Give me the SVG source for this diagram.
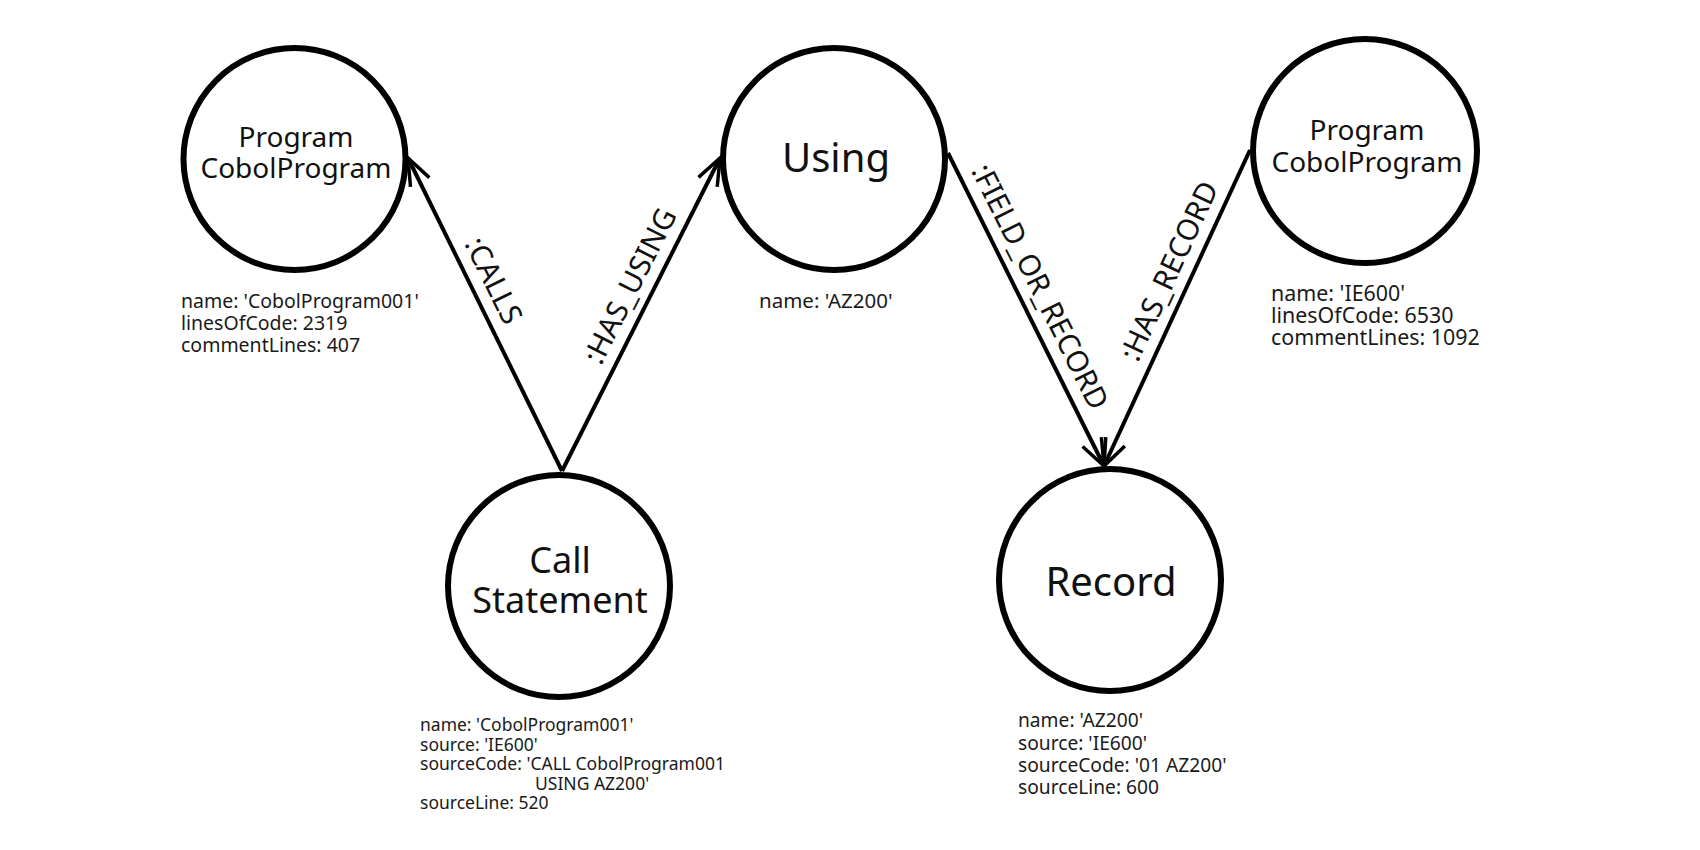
<svg xmlns="http://www.w3.org/2000/svg" width="1700" height="850" viewBox="0 0 1700 850">
  <style>
    .node { fill: #ffffff; stroke: #000000; stroke-width: 6; }
    .lbl { font-family: "Noto Sans", "Open Sans", sans-serif; fill: #111111; text-anchor: middle; }
    .prop { font-family: "Noto Sans", "Open Sans", sans-serif; fill: #1a1a1a; }
    .edge { stroke: #000000; stroke-width: 4; fill: none; marker-end: url(#arrow); }
    .elbl { font-family: "Noto Sans", "Open Sans", sans-serif; font-size: 29.5px; fill: #111111; text-anchor: middle; }
  </style>
  <defs>
    <marker id="arrow" markerUnits="userSpaceOnUse" viewBox="-32 -16 36 32" markerWidth="36" markerHeight="32" refX="0" refY="0" orient="auto">
      <path d="M-27,-10.5 L0,0 L-27,10.5" fill="none" stroke="#000000" stroke-width="3.5" stroke-linejoin="miter"/>
    </marker>
  </defs>
  <rect width="1700" height="850" fill="#ffffff"/>

  <g id="connectors">
    <g id="e-calls">
      <path class="edge" d="M562,471 L408,158"/>
      <text class="elbl" transform="translate(473.2,290.6) rotate(63.8)" y="-12.5">:CALLS</text>
    </g>
    <g id="e-has-using">
      <path class="edge" d="M562,471 L720,158"/>
      <text class="elbl" transform="translate(650.3,296.1) rotate(-63.2)" y="-12.5">:HAS_USING</text>
    </g>
    <g id="e-field-or-record">
      <path class="edge" d="M948,153 L1104,466"/>
      <text class="elbl" transform="translate(1019.7,296.8) rotate(63.5)" y="-12.5">:FIELD_OR_RECORD</text>
    </g>
    <g id="e-has-record">
      <path class="edge" d="M1250,150 L1104,466"/>
      <text class="elbl" transform="translate(1189.7,280.6) rotate(-65.2)" y="-12.5">:HAS_RECORD</text>
    </g>
  </g>

  <g id="node-program-left">
    <circle class="node" cx="294.5" cy="159" r="111"/>
    <text class="lbl" font-size="28" x="296" y="147">Program</text>
    <text class="lbl" font-size="28" x="296" y="178">CobolProgram</text>
    <text class="prop" font-size="19.5" x="181" y="308.3">name: 'CobolProgram001'</text>
    <text class="prop" font-size="19.5" x="181" y="330">linesOfCode: 2319</text>
    <text class="prop" font-size="19.5" x="181" y="351.7">commentLines: 407</text>
  </g>

  <g id="node-using">
    <circle class="node" cx="834" cy="159" r="111"/>
    <text class="lbl" font-size="40" x="836" y="172">Using</text>
    <text class="prop" font-size="20.5" x="759" y="308">name: 'AZ200'</text>
  </g>

  <g id="node-program-right">
    <circle class="node" cx="1365" cy="151" r="112"/>
    <text class="lbl" font-size="28" x="1367" y="140">Program</text>
    <text class="lbl" font-size="28" x="1367" y="172">CobolProgram</text>
    <text class="prop" font-size="21.4" x="1271" y="301">name: 'IE600'</text>
    <text class="prop" font-size="21.4" x="1271" y="323">linesOfCode: 6530</text>
    <text class="prop" font-size="21.4" x="1271" y="345">commentLines: 1092</text>
  </g>

  <g id="node-call-statement">
    <circle class="node" cx="559" cy="586" r="111"/>
    <text class="lbl" font-size="36" x="560" y="573">Call</text>
    <text class="lbl" font-size="36" x="560" y="613">Statement</text>
    <text class="prop" font-size="17.5" x="420" y="731">name: 'CobolProgram001'</text>
    <text class="prop" font-size="17.5" x="420" y="750.5">source: 'IE600'</text>
    <text class="prop" font-size="17.5" x="420" y="770">sourceCode: 'CALL CobolProgram001</text>
    <text class="prop" font-size="17.5" x="535" y="789.5">USING AZ200'</text>
    <text class="prop" font-size="17.5" x="420" y="809">sourceLine: 520</text>
  </g>

  <g id="node-record">
    <circle class="node" cx="1110" cy="580" r="111"/>
    <text class="lbl" font-size="40" x="1111" y="596">Record</text>
    <text class="prop" font-size="19.2" x="1018" y="727">name: 'AZ200'</text>
    <text class="prop" font-size="19.2" x="1018" y="749.5">source: 'IE600'</text>
    <text class="prop" font-size="19.2" x="1018" y="772">sourceCode: '01 AZ200'</text>
    <text class="prop" font-size="19.2" x="1018" y="794">sourceLine: 600</text>
  </g>
</svg>
